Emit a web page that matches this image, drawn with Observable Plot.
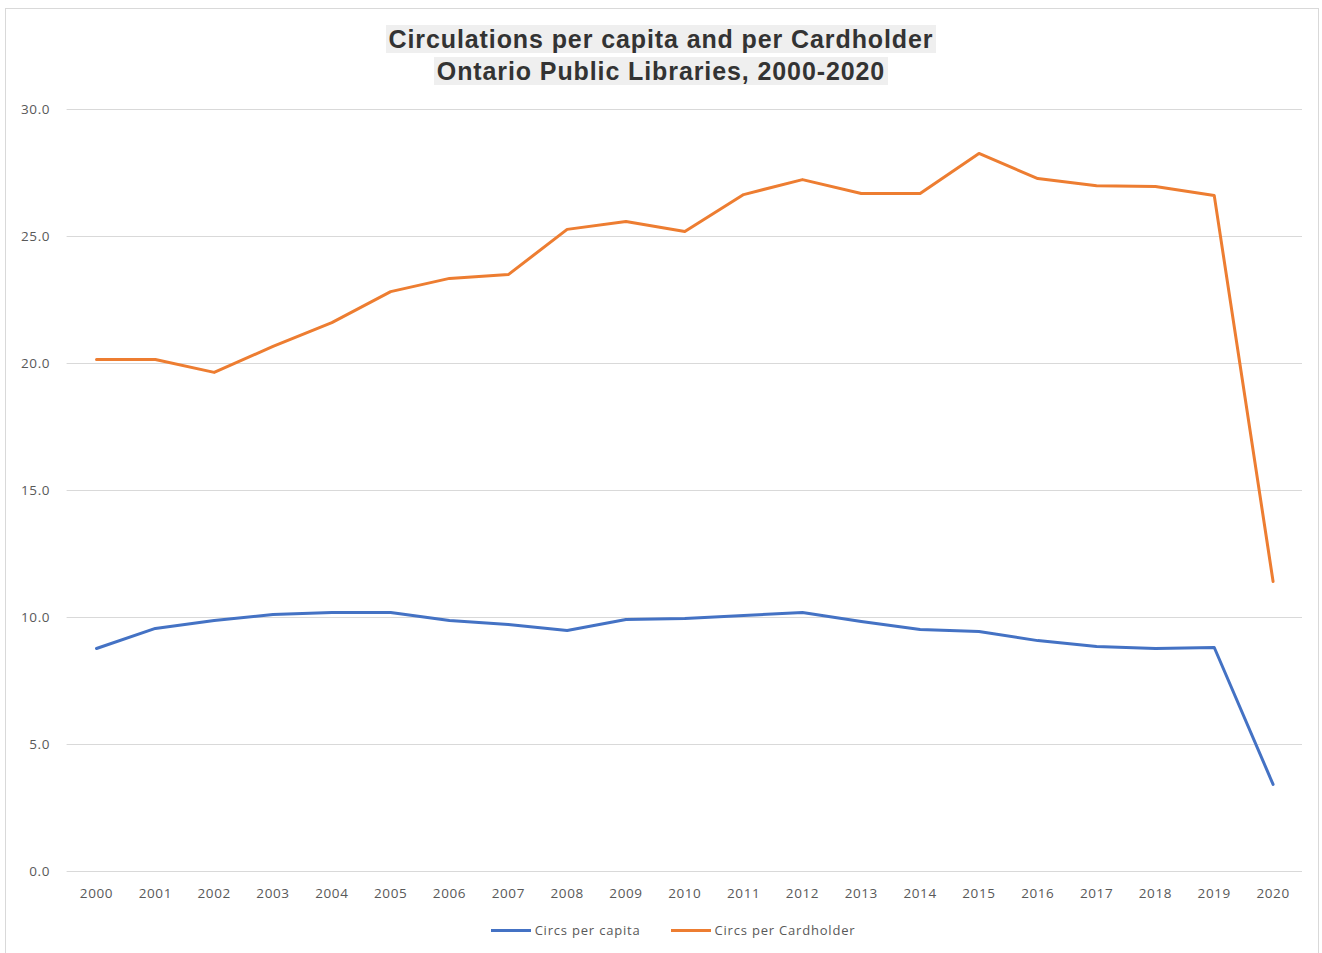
<!DOCTYPE html>
<html>
<head>
<meta charset="utf-8">
<script src="https://cdn.jsdelivr.net/npm/d3@7"></script>
<script src="https://cdn.jsdelivr.net/npm/@observablehq/plot@0.6"></script>
<style>
  html, body { margin: 0; padding: 0; background: #fff; }
  #wrap { position: relative; width: 1322px; height: 953px; overflow: hidden; font-family: "Liberation Sans", Arial, sans-serif; }
  #frame { position: absolute; left: 5px; top: 8px; width: 1314px; height: 960px; border: 1px solid #d9d9d9; box-sizing: border-box; }
  #title { position: absolute; left: 0; top: 23px; width: 1322px; text-align: center; font-size: 25px; letter-spacing: 0.9px; font-weight: bold; color: #333; line-height: 32px; }
  #title span { background: #efefef; padding: 0 3px; }
  #chart { position: absolute; left: 0; top: 90px; }
  #legend { position: absolute; left: 12px; top: 921px; width: 1322px; display: flex; justify-content: center; gap: 30px; font-family: "Open Sans", "Liberation Sans", sans-serif; font-size: 13px; letter-spacing: 0.8px; color: #595959; }
  .item { display: flex; align-items: center; }
  .sw { display: inline-block; width: 40px; height: 3px; margin-right: 4px; }
  #chart svg text { letter-spacing: 0.6px; }
</style>
</head>
<body>
<div id="wrap">
  <div id="frame"></div>
  <div id="title"><span>Circulations per capita and per Cardholder</span><br><span>Ontario Public Libraries, 2000-2020</span></div>
  <div id="chart"></div>
  <div id="legend"></div>
</div>
<script>
const years = ["2000","2001","2002","2003","2004","2005","2006","2007","2008","2009","2010","2011","2012","2013","2014","2015","2016","2017","2018","2019","2020"];
const perCapita = [8.78, 9.57, 9.88, 10.12, 10.2, 10.2, 9.88, 9.72, 9.49, 9.92, 9.96, 10.08, 10.2, 9.84, 9.53, 9.45, 9.09, 8.86, 8.78, 8.82, 3.43];
const perCardholder = [20.16, 20.16, 19.65, 20.67, 21.61, 22.83, 23.35, 23.5, 25.28, 25.59, 25.2, 26.65, 27.24, 26.69, 26.69, 28.27, 27.28, 27.0, 26.97, 26.61, 11.42];
const seriesNames = ["Circs per capita", "Circs per Cardholder"];
const seriesColors = ["#4472C4", "#ED7D31"];
const yTicks = [0, 5, 10, 15, 20, 25, 30];

const data = [];
years.forEach((y, i) => {
  data.push({year: y, value: perCapita[i], series: seriesNames[0]});
  data.push({year: y, value: perCardholder[i], series: seriesNames[1]});
});

const chart = Plot.plot({
  width: 1322,
  height: 820,
  marginLeft: 66.6,
  marginRight: 20,
  marginTop: 19,
  marginBottom: 39,
  style: {fontFamily: "'Open Sans', 'Liberation Sans', sans-serif", fontSize: "13.5px", color: "#595959", background: "transparent"},
  x: {type: "point", domain: years, padding: 0.5, round: false, label: null},
  y: {domain: [0, 30], label: null},
  color: {domain: seriesNames, range: seriesColors},
  marks: [
    Plot.gridY(yTicks, {stroke: "#d9d9d9", strokeOpacity: 1, strokeWidth: 1}),
    Plot.axisY(yTicks, {tickSize: 0, tickPadding: 17, tickFormat: d => d.toFixed(1), fill: "#595959"}),
    Plot.axisX({tickSize: 0, tickPadding: 17, fill: "#595959"}),
    Plot.line(data, {x: "year", y: "value", z: "series", stroke: "series", strokeWidth: 3, strokeLinejoin: "round", strokeLinecap: "round"})
  ]
});
document.getElementById("chart").appendChild(chart);

const legend = document.getElementById("legend");
seriesNames.forEach((n, i) => {
  const it = document.createElement("div");
  it.className = "item";
  it.innerHTML = `<span class="sw" style="background:${seriesColors[i]}"></span><span>${n}</span>`;
  legend.appendChild(it);
});
</script>
</body>
</html>
